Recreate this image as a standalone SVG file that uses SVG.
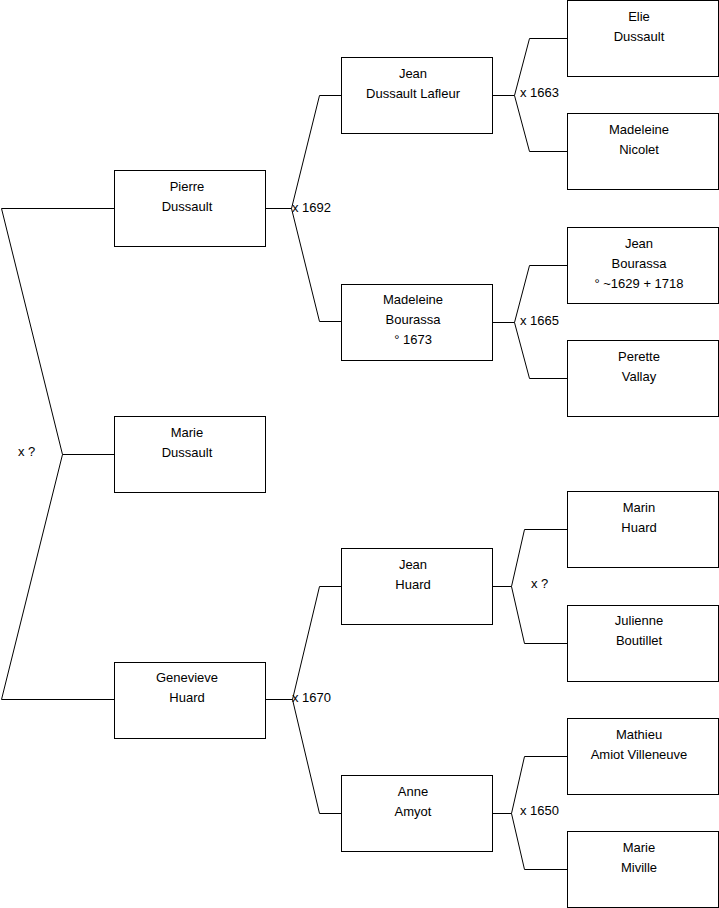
<svg xmlns="http://www.w3.org/2000/svg" width="719" height="908" viewBox="0 0 719 908">
<style>
.box{fill:#fff;stroke:#000;stroke-width:1}
.t{font-family:"Liberation Sans",Arial,sans-serif;font-size:13px;fill:#000;text-anchor:middle}
.l{font-family:"Liberation Sans",Arial,sans-serif;font-size:13px;fill:#000}
.c{fill:none;stroke:#000;stroke-width:1}
</style>
<rect width="719" height="908" fill="#fff"/>
<g id="connectors">
<polyline class="c" points="114,208.5 1.5,208.5 62.5,454.5 1.5,699.5 114,699.5"/>
<line class="c" x1="62.5" y1="454.5" x2="114" y2="454.5"/>
<polyline class="c" points="265,208.5 291.5,208.5"/>
<polyline class="c" points="341,95.5 319.5,95.5 291.5,208.5 319.5,321.5 341,321.5"/>
<polyline class="c" points="265,699.5 292.5,699.5"/>
<polyline class="c" points="341,586.5 319.5,586.5 292.5,699.5 319.5,813.5 341,813.5"/>
<polyline class="c" points="492,95.5 514.5,95.5"/>
<polyline class="c" points="567,38.5 529.5,38.5 514.5,95.5 529.5,151.5 567,151.5"/>
<polyline class="c" points="492,322.5 514.5,322.5"/>
<polyline class="c" points="567,265.5 529.5,265.5 514.5,322.5 529.5,378.5 567,378.5"/>
<polyline class="c" points="492,586.5 511.5,586.5"/>
<polyline class="c" points="567,529.5 524.5,529.5 511.5,586.5 524.5,643.5 567,643.5"/>
<polyline class="c" points="492,813.5 511.5,813.5"/>
<polyline class="c" points="567,756.5 524.5,756.5 511.5,813.5 524.5,869.5 567,869.5"/>
<text class="l" x="18" y="456">x ?</text>
<text class="l" x="292" y="212">x 1692</text>
<text class="l" x="292" y="702">x 1670</text>
<text class="l" x="520" y="97">x 1663</text>
<text class="l" x="520" y="325">x 1665</text>
<text class="l" x="531" y="588">x ?</text>
<text class="l" x="520" y="815">x 1650</text>
</g>
<g id="pierre"><rect class="box" x="114.5" y="170.5" width="151" height="76"/><text class="t" x="187" y="191">Pierre</text><text class="t" x="187" y="211">Dussault</text></g>
<g id="marie"><rect class="box" x="114.5" y="416.5" width="151" height="76"/><text class="t" x="187" y="437">Marie</text><text class="t" x="187" y="457">Dussault</text></g>
<g id="genevieve"><rect class="box" x="114.5" y="662.5" width="151" height="76"/><text class="t" x="187" y="682">Genevieve</text><text class="t" x="187" y="702">Huard</text></g>
<g id="jean-dl"><rect class="box" x="341.5" y="57.5" width="151" height="76"/><text class="t" x="413" y="78">Jean</text><text class="t" x="413" y="98">Dussault Lafleur</text></g>
<g id="madeleine-b"><rect class="box" x="341.5" y="284.5" width="151" height="76"/><text class="t" x="413" y="304">Madeleine</text><text class="t" x="413" y="324">Bourassa</text><text class="t" x="413" y="344">° 1673</text></g>
<g id="jean-h"><rect class="box" x="341.5" y="548.5" width="151" height="76"/><text class="t" x="413" y="569">Jean</text><text class="t" x="413" y="589">Huard</text></g>
<g id="anne"><rect class="box" x="341.5" y="775.5" width="151" height="76"/><text class="t" x="413" y="796">Anne</text><text class="t" x="413" y="816">Amyot</text></g>
<g id="elie"><rect class="box" x="567.5" y="0.5" width="151" height="76"/><text class="t" x="639" y="21">Elie</text><text class="t" x="639" y="41">Dussault</text></g>
<g id="madeleine-n"><rect class="box" x="567.5" y="113.5" width="151" height="76"/><text class="t" x="639" y="134">Madeleine</text><text class="t" x="639" y="154">Nicolet</text></g>
<g id="jean-b"><rect class="box" x="567.5" y="227.5" width="151" height="76"/><text class="t" x="639" y="248">Jean</text><text class="t" x="639" y="268">Bourassa</text><text class="t" x="639" y="288">° ~1629 + 1718</text></g>
<g id="perette"><rect class="box" x="567.5" y="340.5" width="151" height="76"/><text class="t" x="639" y="361">Perette</text><text class="t" x="639" y="381">Vallay</text></g>
<g id="marin"><rect class="box" x="567.5" y="491.5" width="151" height="76"/><text class="t" x="639" y="512">Marin</text><text class="t" x="639" y="532">Huard</text></g>
<g id="julienne"><rect class="box" x="567.5" y="605.5" width="151" height="76"/><text class="t" x="639" y="625">Julienne</text><text class="t" x="639" y="645">Boutillet</text></g>
<g id="mathieu"><rect class="box" x="567.5" y="718.5" width="151" height="76"/><text class="t" x="639" y="739">Mathieu</text><text class="t" x="639" y="759">Amiot Villeneuve</text></g>
<g id="marie-m"><rect class="box" x="567.5" y="831.5" width="151" height="76"/><text class="t" x="639" y="852">Marie</text><text class="t" x="639" y="872">Miville</text></g>
</svg>
